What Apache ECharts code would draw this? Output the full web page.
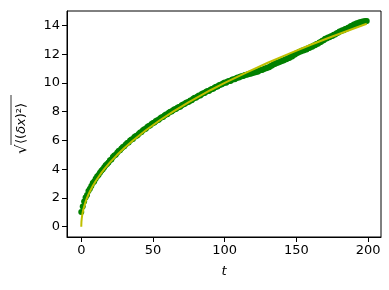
<!DOCTYPE html>
<html><head><meta charset="utf-8">
<script src="https://cdn.jsdelivr.net/npm/echarts@6/dist/echarts.min.js"></script>
<style>html,body{margin:0;padding:0;background:#fff}#c{width:389px;height:290px}</style>
</head><body><div id="c"></div>
<script>
// Measured sqrt(<(dx)^2>) values, t = 0..199
const tValues = Array.from({length:200},(_,i)=>i);
const rmsValues = [
1.02,1.40,1.76,2.04,2.20,2.49,2.64,2.83,3.04,3.15,
3.33,3.50,3.60,3.75,3.90,4.00,4.13,4.28,4.36,4.47,
4.62,4.68,4.84,4.95,5.00,5.14,5.26,5.31,5.44,5.55,
5.60,5.72,5.82,5.86,5.99,6.06,6.10,6.23,6.30,6.35,
6.45,6.55,6.58,6.71,6.77,6.82,6.94,7.00,7.04,7.14,
7.21,7.24,7.35,7.41,7.44,7.54,7.62,7.63,7.74,7.81,
7.82,7.93,7.99,8.01,8.10,8.17,8.18,8.28,8.33,8.35,
8.45,8.50,8.53,8.62,8.66,8.69,8.78,8.80,8.90,8.96,
8.97,9.06,9.12,9.13,9.22,9.28,9.29,9.38,9.43,9.44,
9.53,9.57,9.59,9.68,9.74,9.75,9.83,9.88,9.90,9.98,
10.02,10.01,10.10,10.14,10.13,10.22,10.25,10.26,10.33,10.37,
10.38,10.44,10.47,10.48,10.55,10.57,10.58,10.64,10.63,10.68,
10.72,10.73,10.78,10.78,10.84,10.89,10.89,10.95,11.01,11.02,
11.07,11.09,11.18,11.21,11.30,11.32,11.38,11.40,11.46,11.48,
11.54,11.55,11.62,11.64,11.72,11.73,11.82,11.84,11.94,11.97,
12.06,12.09,12.16,12.18,12.25,12.25,12.32,12.33,12.41,12.43,
12.51,12.52,12.60,12.62,12.70,12.72,12.81,12.84,12.94,12.97,
13.07,13.09,13.16,13.18,13.25,13.27,13.35,13.37,13.46,13.49,
13.58,13.59,13.66,13.67,13.75,13.76,13.84,13.87,13.96,13.98,
14.06,14.07,14.14,14.15,14.22,14.22,14.27,14.27,14.31,14.30
];
// Fit curve samples
const fitT = [0,0.1,0.3,0.6,1,1.5,2,3,4,5,6,8,10,12,14,16,20,25,30,36,45,55,64,75,90,100,115,130,145,160,175,190,199];
const fitY = [0,0.32,0.55,0.77,1.0,1.22,1.41,1.73,2.0,2.24,2.45,2.83,3.16,3.46,3.74,4.0,4.47,5.0,5.48,6.0,6.71,7.42,8.0,8.66,9.49,10.0,10.72,11.40,12.04,12.65,13.23,13.78,14.11];
const xTicks = [0,50,100,150,200];
const yTicks = [0,2,4,6,8,10,12,14];

const FONT = 'DejaVu Sans';
const chart = echarts.init(document.getElementById('c'), null, {renderer:'canvas'});
chart.setOption({
  animation:false,
  backgroundColor:'#fff',
  grid:{left:67,top:11,right:8,bottom:53,show:true,borderColor:'#000',borderWidth:1,backgroundColor:'transparent'},
  xAxis:{type:'value',min:-9.95,max:208.95,
    axisLine:{show:true,onZero:false,lineStyle:{color:'#000',width:1}},
    axisTick:{show:true,length:5,customValues:xTicks,lineStyle:{color:'#000'}},
    axisLabel:{customValues:xTicks,color:'#000',fontFamily:FONT,fontSize:13,margin:7},
    splitLine:{show:false},
    name:'t',nameLocation:'middle',nameGap:28,
    nameTextStyle:{color:'#000',fontFamily:FONT,fontSize:13,fontStyle:'italic'}
  },
  yAxis:{type:'value',min:-0.715,max:15.0,
    axisLine:{show:true,onZero:false,lineStyle:{color:'#000',width:1}},
    axisTick:{show:true,length:5,customValues:yTicks,lineStyle:{color:'#000'}},
    axisLabel:{customValues:yTicks,color:'#000',fontFamily:FONT,fontSize:13,margin:7},
    splitLine:{show:false}
  },
  series:[
    {type:'scatter',data:tValues.map((t,i)=>[t,rmsValues[i]]),symbol:'circle',symbolSize:6,
     itemStyle:{color:'#008000',opacity:1},z:2},
    {type:'line',data:fitT.map((t,i)=>[t,fitY[i]]),showSymbol:false,smooth:false,
     lineStyle:{color:'#bfbf00',width:2},z:3}
  ],
  graphic:[
    {type:'group',x:21,y:124,rotation:Math.PI/2,children:[
      {type:'text',x:-30,y:1,style:{text:'√',font:'15px DejaVu Sans',fill:'#000',verticalAlign:'middle'}},
      {type:'text',x:-20,y:1,style:{
        text:'⟨({i|δx})²⟩',font:'13px DejaVu Sans',fill:'#000',verticalAlign:'middle',
        rich:{i:{fontStyle:'italic',fontFamily:FONT,fontSize:13,fill:'#000'}}}},
      {type:'line',shape:{x1:-21,y1:-10,x2:29,y2:-10},style:{stroke:'#000',lineWidth:0.8}}
    ]}
  ]
});
</script></body></html>
